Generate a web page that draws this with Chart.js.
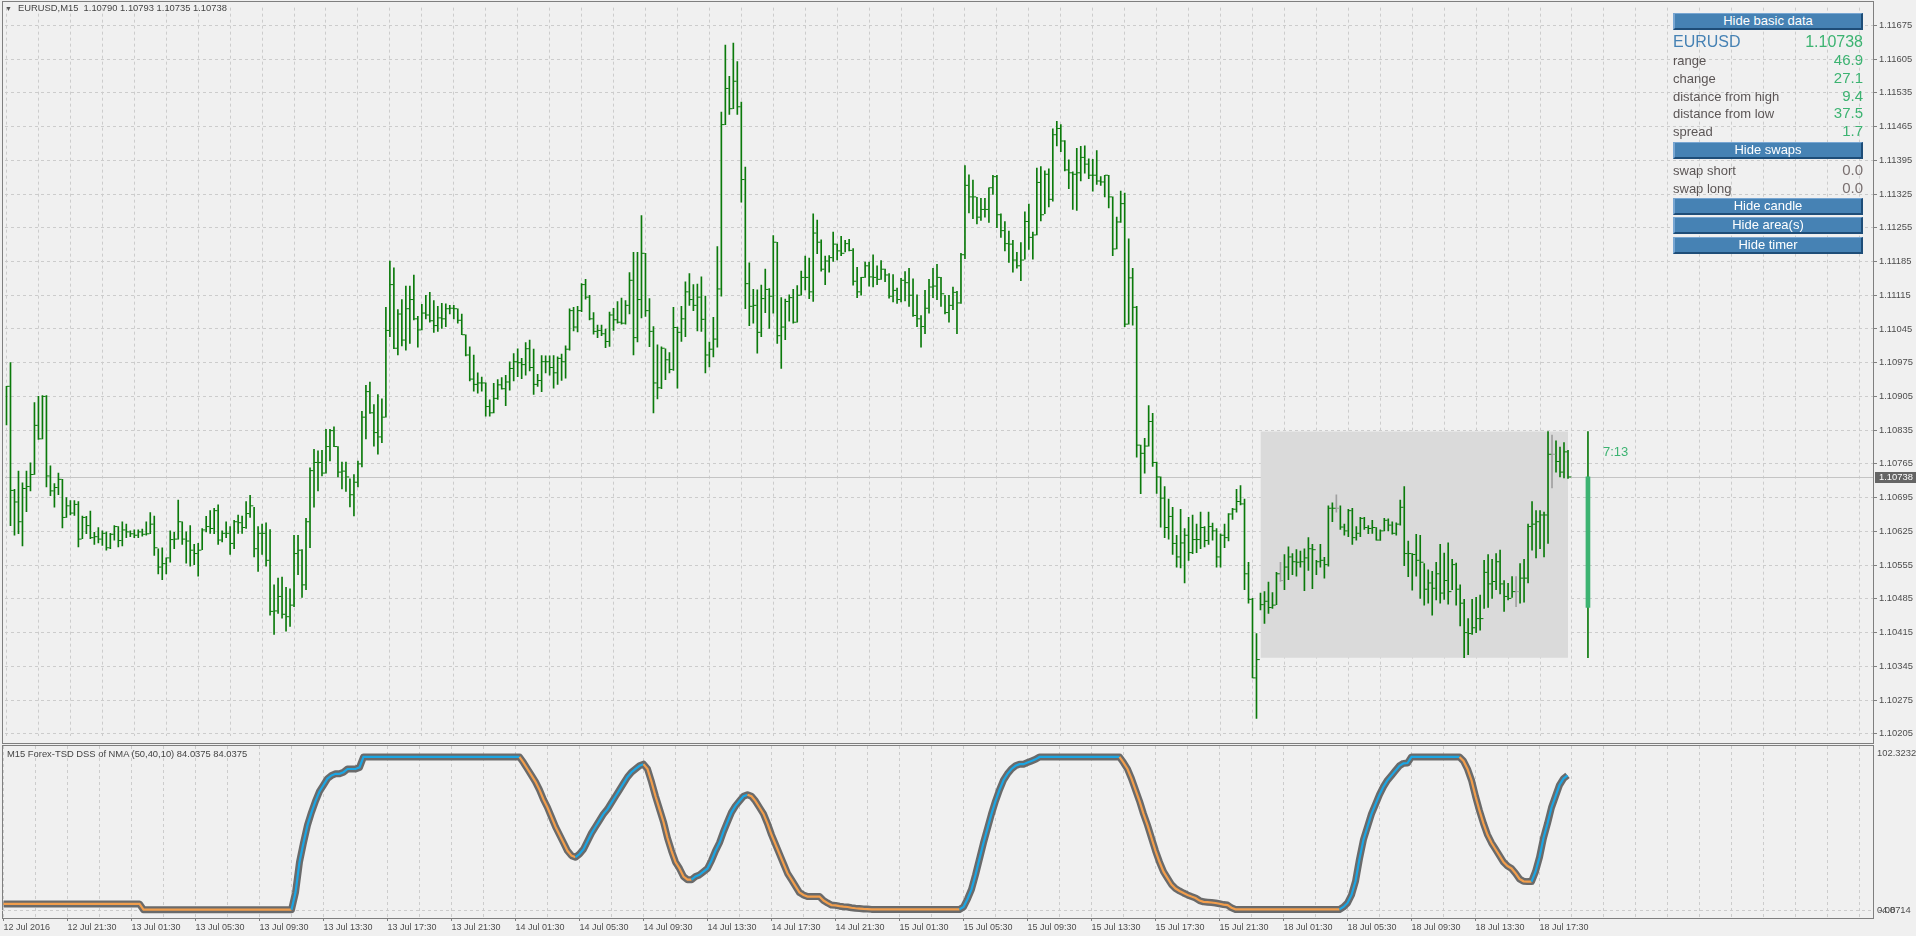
<!DOCTYPE html>
<html>
<head>
<meta charset="utf-8">
<script src="https://cdn.jsdelivr.net/npm/chart.js@4.4.1/dist/chart.umd.min.js"></script>
<style>
body { margin: 0; background: #f0f0f0; width: 1916px; height: 936px; overflow: hidden; position: relative; font-family: "Liberation Sans", Arial, sans-serif; }
canvas { position: absolute; left: 0; }
#main { top: 0; }
#ind { top: 745px; }
.frame { position: absolute; box-sizing: border-box; border: 1px solid #7f7f7f; }
#title { position: absolute; left: 5px; top: 2px; font-size: 9.4px; line-height: 12px; color: #444; white-space: pre; }
#title .tri { font-size: 7px; margin-right: 6px; color: #555; }
#dssTitle { position: absolute; left: 7px; top: 748px; font-size: 9.4px; line-height: 12px; color: #444; white-space: pre; }
.btn { position: absolute; left: 1673px; width: 190px; height: 17px; box-sizing: border-box; background: #4682b4; color: #fff; font-size: 13px; line-height: 14px; text-align: center;
  border-top: 1px solid #78a6d2; border-left: 2px solid #78a6d2; border-right: 2px solid #1e4d78; border-bottom: 2px solid #1e4d78; }
.row { position: absolute; left: 1673px; width: 190px; height: 18px; line-height: 18px; display: flex; justify-content: space-between; align-items: baseline; }
.row .k { font-size: 13px; color: #5b5555; }
.row .v { font-size: 15px; color: #3cb371; }
.row .g { font-size: 15px; color: #7a7070; }
.row .sym { font-size: 16px; color: #4682b4; }
.row .big { font-size: 16px; color: #3cb371; }
#timer { position: absolute; left: 1603px; top: 444px; font-size: 13px; line-height: 16px; color: #3cb371; }
</style>
</head>
<body>
<div class="frame" style="left:2px;top:1px;width:1872px;height:743px"></div>
<div class="frame" style="left:2px;top:745px;width:1872px;height:174px"></div>
<canvas id="main" width="1916" height="744"></canvas>
<canvas id="ind" width="1916" height="191"></canvas>

<div id="title"><span class="tri">▼</span>EURUSD,M15  1.10790 1.10793 1.10735 1.10738</div>
<div id="dssTitle">M15 Forex-TSD DSS of NMA (50,40,10) 84.0375 84.0375</div>

<div class="btn" style="top:13px">Hide basic data</div>
<div class="row" style="top:33px"><span class="sym">EURUSD</span><span class="big">1.10738</span></div>
<div class="row" style="top:51px"><span class="k">range</span><span class="v">46.9</span></div>
<div class="row" style="top:69px"><span class="k">change</span><span class="v">27.1</span></div>
<div class="row" style="top:87px"><span class="k">distance from high</span><span class="v">9.4</span></div>
<div class="row" style="top:104px"><span class="k">distance from low</span><span class="v">37.5</span></div>
<div class="row" style="top:122px"><span class="k">spread</span><span class="v">1.7</span></div>
<div class="btn" style="top:142px">Hide swaps</div>
<div class="row" style="top:161px"><span class="k">swap short</span><span class="g">0.0</span></div>
<div class="row" style="top:179px"><span class="k">swap long</span><span class="g">0.0</span></div>
<div class="btn" style="top:198px">Hide candle</div>
<div class="btn" style="top:217px">Hide area(s)</div>
<div class="btn" style="top:237px">Hide timer</div>
<div id="timer">7:13</div>

<script>
// EURUSD M15, one entry per bar
const highs = [1.10926,1.10975,1.10712,1.10750,1.10726,1.10750,1.10767,1.10892,1.10905,1.10907,
  1.10907,1.10761,1.10724,1.10746,1.10733,1.10695,1.10689,1.10689,1.10687,1.10657,
  1.10656,1.10667,1.10623,1.10633,1.10626,1.10624,1.10621,1.10637,1.10635,1.10645,
  1.10640,1.10626,1.10628,1.10628,1.10630,1.10645,1.10664,1.10657,1.10589,1.10591,
  1.10570,1.10626,1.10623,1.10690,1.10645,1.10624,1.10637,1.10598,1.10600,1.10631,
  1.10656,1.10668,1.10673,1.10680,1.10626,1.10645,1.10635,1.10648,1.10659,1.10657,
  1.10687,1.10700,1.10675,1.10635,1.10640,1.10643,1.10629,1.10514,1.10528,1.10530,
  1.10509,1.10506,1.10617,1.10617,1.10587,1.10652,1.10757,1.10795,1.10792,1.10793,
  1.10837,1.10837,1.10842,1.10801,1.10769,1.10769,1.10734,1.10743,1.10771,1.10874,
  1.10928,1.10935,1.10888,1.10909,1.10900,1.11090,1.11186,1.11172,1.11085,1.11106,
  1.11134,1.11134,1.11157,1.11071,1.11096,1.11115,1.11121,1.11104,1.11092,1.11098,
  1.11097,1.11094,1.11094,1.11087,1.11076,1.11033,1.11008,1.10991,1.10954,1.10945,
  1.10933,1.10898,1.10932,1.10940,1.10944,1.10949,1.10977,1.10994,1.11004,1.10984,
  1.11017,1.11022,1.11003,1.10951,1.10990,1.10989,1.10989,1.10990,1.10987,1.10993,
  1.11010,1.11087,1.11090,1.11092,1.11139,1.11148,1.11115,1.11079,1.11053,1.11053,
  1.11045,1.11080,1.11088,1.11102,1.11109,1.11104,1.11162,1.11204,1.11204,1.11280,
  1.11202,1.11108,1.11050,1.11012,1.11008,1.11004,1.10996,1.11090,1.11049,1.11092,
  1.11143,1.11160,1.11137,1.11138,1.11153,1.11113,1.11018,1.11069,1.11216,1.11495,
  1.11634,1.11569,1.11638,1.11600,1.11516,1.11381,1.11182,1.11127,1.11126,1.11136,
  1.11169,1.11129,1.11239,1.11225,1.11110,1.11107,1.11116,1.11127,1.11135,1.11165,
  1.11196,1.11192,1.11284,1.11271,1.11230,1.11196,1.11197,1.11246,1.11221,1.11237,
  1.11229,1.11231,1.11212,1.11173,1.11152,1.11184,1.11184,1.11199,1.11176,1.11187,
  1.11169,1.11160,1.11158,1.11130,1.11150,1.11164,1.11171,1.11149,1.11116,1.11073,
  1.11125,1.11148,1.11171,1.11179,1.11152,1.11115,1.11115,1.11132,1.11123,1.11202,
  1.11384,1.11365,1.11354,1.11318,1.11316,1.11316,1.11338,1.11364,1.11364,1.11284,
  1.11268,1.11248,1.11229,1.11204,1.11224,1.11288,1.11304,1.11246,1.11379,1.11382,
  1.11373,1.11377,1.11460,1.11476,1.11469,1.11436,1.11396,1.11371,1.11420,1.11424,
  1.11425,1.11398,1.11397,1.11415,1.11361,1.11364,1.11364,1.11319,1.11277,1.11331,
  1.11327,1.11232,1.11171,1.11092,1.10804,1.10818,1.10886,1.10870,1.10769,1.10738,
  1.10718,1.10692,1.10675,1.10617,1.10671,1.10631,1.10654,1.10659,1.10640,1.10665,
  1.10635,1.10665,1.10642,1.10631,1.10620,1.10640,1.10662,1.10673,1.10712,1.10720,
  1.10692,1.10561,1.10486,1.10413,1.10497,1.10500,1.10520,1.10498,1.10540,1.10561,
  1.10577,1.10593,1.10579,1.10587,1.10584,1.10589,1.10612,1.10598,1.10565,1.10598,
  1.10571,1.10678,1.10684,1.10701,1.10678,1.10640,1.10671,1.10673,1.10635,1.10654,
  1.10654,1.10637,1.10648,1.10633,1.10628,1.10652,1.10651,1.10645,1.10643,1.10690,
  1.10718,1.10605,1.10579,1.10619,1.10617,1.10558,1.10545,1.10542,1.10561,1.10598,
  1.10580,1.10601,1.10567,1.10559,1.10514,1.10484,1.10444,1.10484,1.10488,1.10493,
  1.10565,1.10577,1.10567,1.10579,1.10586,1.10523,1.10517,1.10531,1.10531,1.10558,
  1.10567,1.10640,1.10687,1.10668,1.10668,1.10665,1.10832,1.10825,1.10813,1.10800,
  1.10809,1.10793];

const lows = [1.10846,1.10637,1.10617,1.10620,1.10595,1.10666,1.10709,1.10743,1.10816,1.10817,
  1.10717,1.10699,1.10675,1.10701,1.10632,1.10654,1.10659,1.10658,1.10593,1.10610,
  1.10620,1.10610,1.10598,1.10601,1.10596,1.10586,1.10589,1.10607,1.10593,1.10595,
  1.10612,1.10614,1.10612,1.10612,1.10615,1.10617,1.10620,1.10575,1.10537,1.10525,
  1.10537,1.10561,1.10589,1.10609,1.10598,1.10559,1.10553,1.10556,1.10532,1.10587,
  1.10624,1.10621,1.10620,1.10598,1.10603,1.10612,1.10577,1.10589,1.10621,1.10621,
  1.10631,1.10654,1.10572,1.10542,1.10577,1.10553,1.10451,1.10411,1.10455,1.10445,
  1.10418,1.10428,1.10469,1.10535,1.10488,1.10504,1.10591,1.10675,1.10709,1.10740,
  1.10746,1.10771,1.10801,1.10738,1.10713,1.10708,1.10676,1.10657,1.10717,1.10759,
  1.10817,1.10870,1.10802,1.10785,1.10809,1.10862,1.11029,1.11004,1.10991,1.11010,
  1.11001,1.11015,1.11064,1.11007,1.11043,1.11066,1.11059,1.11038,1.11040,1.11046,
  1.11050,1.11076,1.11066,1.11057,1.11033,1.10989,1.10937,1.10916,1.10912,1.10916,
  1.10864,1.10864,1.10871,1.10899,1.10920,1.10886,1.10918,1.10937,1.10946,1.10942,
  1.10949,1.10958,1.10909,1.10926,1.10915,1.10954,1.10949,1.10922,1.10930,1.10938,
  1.10943,1.11001,1.11041,1.11039,1.11081,1.11107,1.11064,1.11034,1.11027,1.11031,
  1.11006,1.11009,1.11042,1.11057,1.11055,1.11055,1.11076,1.10991,1.11018,1.11068,
  1.11071,1.11008,1.10871,1.10900,1.10921,1.10940,1.10954,1.10959,1.10922,1.11019,
  1.11029,1.11094,1.11083,1.11041,1.11040,1.10954,1.10966,1.10987,1.11007,1.11113,
  1.11469,1.11490,1.11502,1.11490,1.11308,1.11087,1.11052,1.11057,1.10995,1.11029,
  1.11079,1.11046,1.11078,1.11015,1.10963,1.11023,1.11061,1.11057,1.11059,1.11115,
  1.11126,1.11108,1.11102,1.11201,1.11165,1.11137,1.11163,1.11185,1.11188,1.11197,
  1.11205,1.11207,1.11136,1.11110,1.11115,1.11152,1.11134,1.11132,1.11137,1.11148,
  1.11143,1.11109,1.11101,1.11098,1.11101,1.11103,1.11092,1.11071,1.11050,1.11007,
  1.11035,1.11078,1.11110,1.11106,1.11092,1.11076,1.11059,1.11085,1.11035,1.11098,
  1.11191,1.11286,1.11274,1.11263,1.11270,1.11277,1.11266,1.11324,1.11255,1.11235,
  1.11207,1.11183,1.11163,1.11171,1.11145,1.11190,1.11210,1.11190,1.11240,1.11269,
  1.11284,1.11298,1.11310,1.11425,1.11413,1.11373,1.11336,1.11293,1.11291,1.11352,
  1.11368,1.11357,1.11331,1.11345,1.11343,1.11319,1.11296,1.11197,1.11211,1.11266,
  1.11050,1.11055,1.11053,1.10779,1.10703,1.10746,1.10802,1.10760,1.10704,1.10634,
  1.10612,1.10609,1.10577,1.10551,1.10549,1.10518,1.10565,1.10579,1.10581,1.10589,
  1.10593,1.10598,1.10607,1.10551,1.10551,1.10591,1.10605,1.10650,1.10665,1.10680,
  1.10504,1.10476,1.10321,1.10237,1.10462,1.10434,1.10455,1.10465,1.10473,1.10521,
  1.10504,1.10525,1.10535,1.10532,1.10551,1.10502,1.10544,1.10506,1.10535,1.10551,
  1.10528,1.10553,1.10645,1.10665,1.10629,1.10617,1.10614,1.10598,1.10607,1.10614,
  1.10629,1.10620,1.10621,1.10607,1.10606,1.10626,1.10626,1.10619,1.10617,1.10638,
  1.10554,1.10531,1.10503,1.10532,1.10486,1.10472,1.10476,1.10451,1.10483,1.10476,
  1.10484,1.10474,1.10504,1.10472,1.10429,1.10363,1.10369,1.10411,1.10415,1.10420,
  1.10465,1.10467,1.10486,1.10504,1.10495,1.10459,1.10483,1.10488,1.10469,1.10476,
  1.10478,1.10518,1.10586,1.10570,1.10589,1.10572,1.10600,1.10715,1.10748,1.10738,
  1.10736,1.10735];

const closes = [1.10926,1.10710,1.10686,1.10645,1.10714,1.10718,1.10743,1.10845,1.10817,1.10905,
  1.10740,1.10709,1.10716,1.10733,1.10654,1.10678,1.10663,1.10681,1.10609,1.10654,
  1.10637,1.10612,1.10614,1.10609,1.10621,1.10591,1.10619,1.10635,1.10606,1.10628,
  1.10624,1.10620,1.10617,1.10624,1.10619,1.10620,1.10640,1.10591,1.10551,1.10558,
  1.10570,1.10608,1.10609,1.10645,1.10609,1.10605,1.10586,1.10579,1.10586,1.10628,
  1.10635,1.10631,1.10668,1.10607,1.10621,1.10621,1.10600,1.10645,1.10643,1.10633,
  1.10662,1.10678,1.10589,1.10621,1.10621,1.10565,1.10459,1.10460,1.10490,1.10453,
  1.10448,1.10472,1.10579,1.10586,1.10514,1.10645,1.10751,1.10768,1.10768,1.10746,
  1.10801,1.10834,1.10801,1.10748,1.10750,1.10738,1.10701,1.10727,1.10765,1.10862,
  1.10915,1.10871,1.10830,1.10821,1.10862,1.11042,1.11137,1.11005,1.11076,1.11022,
  1.11087,1.11106,1.11066,1.11043,1.11078,1.11074,1.11062,1.11052,1.11068,1.11066,
  1.11087,1.11088,1.11087,1.11063,1.11033,1.10991,1.10941,1.10930,1.10933,1.10933,
  1.10884,1.10871,1.10901,1.10929,1.10921,1.10935,1.10963,1.10977,1.10975,1.10971,
  1.11004,1.10965,1.10930,1.10938,1.10977,1.10977,1.10965,1.10954,1.10984,1.10977,
  1.11003,1.11083,1.11049,1.11083,1.11137,1.11111,1.11066,1.11040,1.11042,1.11035,
  1.11019,1.11074,1.11064,1.11059,1.11057,1.11094,1.11146,1.11027,1.11106,1.11202,
  1.11083,1.11040,1.10933,1.10923,1.11005,1.10981,1.10961,1.11048,1.11038,1.11066,
  1.11122,1.11106,1.11094,1.11111,1.11065,1.10991,1.11003,1.11024,1.11128,1.11469,
  1.11544,1.11502,1.11559,1.11506,1.11355,1.11139,1.11092,1.11094,1.11038,1.11108,
  1.11127,1.11113,1.11225,1.11031,1.11049,1.11102,1.11110,1.11059,1.11115,1.11152,
  1.11152,1.11122,1.11244,1.11225,1.11169,1.11186,1.11193,1.11221,1.11207,1.11202,
  1.11222,1.11208,1.11144,1.11122,1.11152,1.11176,1.11153,1.11152,1.11148,1.11169,
  1.11157,1.11113,1.11125,1.11106,1.11146,1.11141,1.11115,1.11073,1.11066,1.11050,
  1.11088,1.11132,1.11134,1.11152,1.11118,1.11079,1.11094,1.11121,1.11099,1.11199,
  1.11343,1.11319,1.11319,1.11277,1.11293,1.11293,1.11338,1.11361,1.11282,1.11249,
  1.11222,1.11221,1.11188,1.11176,1.11188,1.11268,1.11235,1.11240,1.11349,1.11282,
  1.11366,1.11314,1.11448,1.11461,1.11435,1.11375,1.11369,1.11366,1.11369,1.11401,
  1.11387,1.11364,1.11364,1.11352,1.11350,1.11364,1.11319,1.11211,1.11267,1.11305,
  1.11055,1.11151,1.11090,1.10804,1.10787,1.10802,1.10853,1.10768,1.10738,1.10694,
  1.10633,1.10656,1.10600,1.10572,1.10601,1.10617,1.10581,1.10608,1.10608,1.10633,
  1.10606,1.10635,1.10626,1.10572,1.10617,1.10612,1.10661,1.10671,1.10687,1.10682,
  1.10537,1.10484,1.10321,1.10359,1.10473,1.10480,1.10467,1.10472,1.10537,1.10523,
  1.10551,1.10572,1.10562,1.10561,1.10562,1.10570,1.10589,1.10587,1.10562,1.10565,
  1.10556,1.10673,1.10673,1.10673,1.10634,1.10626,1.10668,1.10612,1.10621,1.10652,
  1.10633,1.10631,1.10633,1.10607,1.10626,1.10648,1.10638,1.10621,1.10640,1.10675,
  1.10579,1.10579,1.10577,1.10565,1.10561,1.10505,1.10518,1.10507,1.10537,1.10497,
  1.10523,1.10500,1.10556,1.10505,1.10476,1.10415,1.10413,1.10425,1.10444,1.10444,
  1.10540,1.10516,1.10521,1.10562,1.10516,1.10490,1.10486,1.10500,1.10500,1.10528,
  1.10528,1.10635,1.10640,1.10645,1.10659,1.10659,1.10785,1.10785,1.10770,1.10748,
  1.10790,1.10738];

// bars whose open equals close (drawn grey)
const unchangedBars = [319, 333, 378, 387];

// today's candle: open, high, low, close
const dayOHLC = [1.10467, 1.10832, 1.10363, 1.10738];
const dayStartBar = 314;
const candleBar = 396;

// DSS of NMA, one value per bar
const dss = [3.9,3.9,3.9,3.9,3.9,3.9,3.9,3.9,3.9,3.9,
  3.9,3.9,3.9,3.9,3.9,3.9,3.9,3.9,3.9,3.9,
  3.9,3.9,3.9,3.9,3.9,3.9,3.9,3.9,3.9,3.9,
  3.9,3.9,3.9,3.9,3.9,
  0.3,0.3,0.3,0.3,0.3,0.3,0.3,0.3,0.3,0.3,
  0.3,0.3,0.3,0.3,0.3,0.3,0.3,0.3,0.3,0.3,
  0.3,0.3,0.3,0.3,0.3,0.3,0.3,0.3,0.3,0.3,
  0.3,0.3,0.3,0.3,0.3,0.3,0.3,0.3,
  11,30,42,53,61,68,74,78,82,84,85,85,86,88,88,88,89,
  95.5,95.5,95.5,95.5,95.5,95.5,95.5,95.5,95.5,95.5,
  95.5,95.5,95.5,95.5,95.5,95.5,95.5,95.5,95.5,95.5,
  95.5,95.5,95.5,95.5,95.5,95.5,95.5,95.5,95.5,95.5,
  95.5,95.5,95.5,95.5,95.5,95.5,95.5,95.5,95.5,95.5,
  92,88,84,80,75,69,64,58,52,47,42,37,34,33,35,38,43,48,52,56,
  60,63,67,71,75,79,83,86,88,90,91,
  88,80,71,63,55,45,37,30,26,21,19,19,21,22,24,26,31,37,42,49,
  55,61,65,68,71,72,71,68,64,60,54,47,41,35,29,23,19,15,11,9.5,
  8.5,8.5,8.5,8.5,6,4.5,3.2,3,2.5,2.2,2,1.5,1.2,1,0.8,0.7,
  0.5,0.5,0.5,0.5,0.5,0.5,0.5,0.5,0.5,0.5,
  0.5,0.5,0.5,0.5,0.5,0.5,0.5,0.5,0.5,0.5,
  0.5,0.5,0.5,
  2,7,13,22,32,42,51,60,68,75,81,85,88,90,91,91,92,93,94,
  95.5,95.5,95.5,95.5,95.5,95.5,95.5,95.5,95.5,95.5,
  95.5,95.5,95.5,95.5,95.5,95.5,95.5,95.5,95.5,95.5,
  95.5,
  92,88,82,75,68,60,53,45,37,30,24,20,16,13.5,12,10.7,9.5,8.5,7.6,6,
  5.2,5,4.8,4.5,4,3.5,3.2,1.5,
  0.5,0.5,0.5,0.5,0.5,0.5,0.5,0.5,0.5,0.5,
  0.5,0.5,0.5,0.5,0.5,0.5,0.5,0.5,0.5,0.5,
  0.5,0.5,0.5,0.5,0.5,0.5,0.5,
  2,4.5,9.5,18,32,44,52,60,66,72,77,81,84,87,90,91.5,91.7,
  95.5,95.5,95.5,95.5,95.5,95.5,95.5,95.5,95.5,95.5,
  95.5,95.5,95.5,
  93,88,81,71,62,54,47,42,38,34,30,27.5,26,23,19.5,18,17.8,17.8,24,33,
  45,54,64,71,78,82,84.0375];

// axis labels
const priceTicks = [1.10205,1.10275,1.10345,1.10415,1.10485,1.10555,1.10625,1.10695,1.10765,1.10835,1.10905,
  1.10975,1.11045,1.11115,1.11185,1.11255,1.11325,1.11395,1.11465,1.11535,1.11605,1.11675];
const timeLabels = ['12 Jul 2016','12 Jul 21:30','13 Jul 01:30','13 Jul 05:30','13 Jul 09:30','13 Jul 13:30',
  '13 Jul 17:30','13 Jul 21:30','14 Jul 01:30','14 Jul 05:30','14 Jul 09:30','14 Jul 13:30','14 Jul 17:30',
  '14 Jul 21:30','15 Jul 01:30','15 Jul 05:30','15 Jul 09:30','15 Jul 13:30','15 Jul 17:30','15 Jul 21:30',
  '18 Jul 01:30','18 Jul 05:30','18 Jul 09:30','18 Jul 13:30','18 Jul 17:30'];
const dssRange = [-4.8714, 102.3232];

const priceMin = 1.101997, priceMax = 1.117117;
const xMin = -0.375, xMax = 467.375;
const barsPerLabel = 16, barsPerGrid = 8;

const GREEN = '#0b7a0b';
const GRID = '#cccccc';
const TEXT = '#4d4d4d';
const FONT = '"Liberation Sans", Arial, sans-serif';

Chart.defaults.font.family = FONT;
Chart.defaults.animation = false;

const gridBars = [];
for (let b = 0; b <= xMax; b += barsPerGrid) gridBars.push(b);

const lastBar = closes.length - 1;
const lastClose = closes[lastBar];
const barColor = ctx => unchangedBars.includes(ctx.dataIndex) ? '#a0a0a0' : GREEN;

const priceLine = {
  id: 'priceLine',
  beforeDatasetsDraw(chart) {
    const {ctx, chartArea, scales: {y}} = chart;
    const py = Math.round(y.getPixelForValue(lastClose)) + 0.5;
    ctx.save();
    ctx.strokeStyle = '#c4c4c4';
    ctx.lineWidth = 1;
    ctx.beginPath();
    ctx.moveTo(chartArea.left, py);
    ctx.lineTo(chartArea.right, py);
    ctx.stroke();
    ctx.restore();
  },
  afterDraw(chart) {
    const {ctx, chartArea, scales: {y}} = chart;
    const py = Math.round(y.getPixelForValue(lastClose));
    ctx.save();
    ctx.fillStyle = '#656565';
    ctx.fillRect(chartArea.right + 2, py - 5, 41, 11);
    ctx.fillStyle = '#ffffff';
    ctx.font = '9.4px ' + FONT;
    ctx.textBaseline = 'middle';
    ctx.fillText(lastClose.toFixed(5), chartArea.right + 6, py + 0.5);
    ctx.restore();
  }
};

new Chart(document.getElementById('main'), {
  type: 'bar',
  data: {
    datasets: [
      {
        type: 'line',
        data: [{x: dayStartBar, y: dayOHLC[1]}, {x: lastBar, y: dayOHLC[1]}],
        fill: '+1', backgroundColor: '#dadada', borderWidth: 0, pointRadius: 0, order: 9
      },
      {
        type: 'line',
        data: [{x: dayStartBar, y: dayOHLC[2]}, {x: lastBar, y: dayOHLC[2]}],
        fill: false, borderWidth: 0, pointRadius: 0, order: 9
      },
      {
        type: 'bar',
        data: highs.map((h, i) => ({x: i, y: [lows[i], h]})),
        backgroundColor: barColor, barThickness: 1, grouped: false, order: 3
      },
      {
        type: 'line',
        data: closes.map((c, i) => ({x: i + 0.45, y: c})),
        showLine: false, pointStyle: 'line', pointRadius: 1.5, pointBorderWidth: 1,
        pointBorderColor: barColor, pointBackgroundColor: barColor, order: 2
      },
      {
        type: 'bar',
        data: [{x: candleBar, y: [dayOHLC[2], dayOHLC[1]]}],
        backgroundColor: GREEN, barThickness: 1, grouped: false, order: 2
      },
      {
        type: 'bar',
        data: [{x: candleBar, y: [dayOHLC[0], dayOHLC[3]]}],
        backgroundColor: '#3cb371', barThickness: 4, grouped: false, order: 1
      }
    ]
  },
  options: {
    responsive: false,
    events: [],
    layout: {padding: {left: 2, top: 2, right: 0, bottom: 1}},
    plugins: {legend: {display: false}, tooltip: {enabled: false}},
    scales: {
      x: {
        type: 'linear', min: xMin, max: xMax, offset: false,
        afterBuildTicks: s => { s.ticks = gridBars.map(v => ({value: v})); },
        afterFit: s => { s.height = 0; },
        ticks: {display: false},
        grid: {color: GRID, drawTicks: false, offset: false},
        border: {display: false, dash: [3, 3]}
      },
      y: {
        position: 'right', min: priceMin, max: priceMax,
        afterBuildTicks: s => { s.ticks = priceTicks.map(v => ({value: v})); },
        afterFit: s => { s.width = 43; },
        ticks: {color: TEXT, font: {size: 9.4}, padding: 2, callback: v => v.toFixed(5)},
        grid: {color: GRID, tickColor: '#808080', tickLength: 4, tickBorderDash: []},
        border: {display: false, dash: [3, 3]}
      }
    }
  },
  plugins: [priceLine]
});

// rising / falling state of the DSS line
const trend = [];
dss.forEach((v, i) => {
  const prev = i ? trend[i - 1] : -1;
  trend.push(i && v > dss[i - 1] ? 1 : (i && v < dss[i - 1] ? -1 : prev));
});

const dssLabels = {
  id: 'dssLabels',
  afterDraw(chart) {
    const {ctx, chartArea, scales: {y}} = chart;
    ctx.save();
    ctx.font = '9.4px ' + FONT;
    ctx.fillStyle = TEXT;
    ctx.textBaseline = 'middle';
    const x = chartArea.right + 4;
    ctx.fillText(dssRange[1].toFixed(4), x, chartArea.top + 7);
    const zy = y.getPixelForValue(0);
    ctx.fillText('0.00', x, zy);
    ctx.fillText(dssRange[0].toFixed(4), x + 2, zy);
    ctx.restore();
  }
};

const dssPts = dss.map((v, i) => ({x: i, y: v}));

new Chart(document.getElementById('ind'), {
  type: 'line',
  data: {
    datasets: [
      {
        data: dssPts, borderColor: '#6a6a6a', borderWidth: 7, pointRadius: 0,
        borderJoinStyle: 'round', borderCapStyle: 'butt', order: 2
      },
      {
        data: dssPts, borderWidth: 2.2, pointRadius: 0, order: 1,
        borderColor: '#1ba6e4',
        segment: {borderColor: ctx => trend[ctx.p1DataIndex] > 0 ? '#1ba6e4' : '#f29e4c'}
      }
    ]
  },
  options: {
    responsive: false,
    events: [],
    layout: {padding: {left: 2, top: 1, right: 0, bottom: 0}},
    plugins: {legend: {display: false}, tooltip: {enabled: false}},
    scales: {
      x: {
        type: 'linear', min: xMin, max: xMax, offset: false,
        afterBuildTicks: s => { s.ticks = gridBars.map(v => ({value: v})); },
        afterFit: s => { s.height = 18; },
        ticks: {
          color: TEXT, font: {size: 9}, padding: 1, align: 'start', maxRotation: 0, autoSkip: false,
          callback: v => (v % barsPerLabel === 0 && timeLabels[v / barsPerLabel]) || ''
        },
        grid: {
          color: GRID, tickLength: 3, tickBorderDash: [],
          tickColor: ctx => (ctx.tick && ctx.tick.value % barsPerLabel === 0 && timeLabels[ctx.tick.value / barsPerLabel]) ? '#808080' : 'rgba(0,0,0,0)'
        },
        border: {display: false, dash: [3, 3]}
      },
      y: {
        position: 'right', min: dssRange[0], max: dssRange[1],
        afterBuildTicks: s => { s.ticks = [{value: 0}]; },
        afterFit: s => { s.width = 43; },
        ticks: {display: false},
        grid: {color: GRID, drawTicks: false},
        border: {display: false, dash: [3, 3]}
      }
    }
  },
  plugins: [dssLabels]
});
</script>
</body>
</html>
